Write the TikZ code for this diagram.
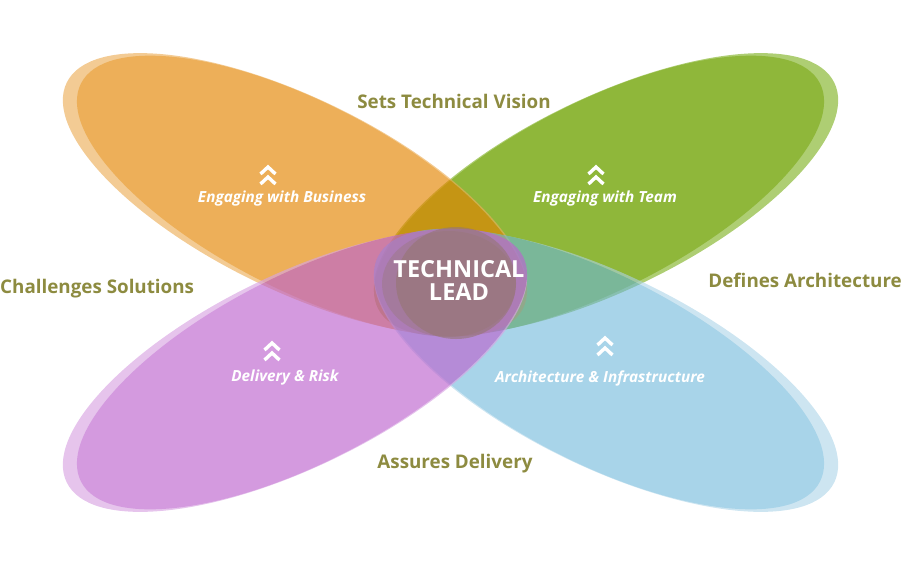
\documentclass[tikz,border=0pt]{standalone}
\usepackage{fontspec}
\setmainfont{Open Sans}
\definecolor{olivetext}{RGB}{141,139,64}
% petal colours (full strength, shown through the group opacity)
\definecolor{orangeL}{RGB}{236,175,90}
\definecolor{orangeD}{RGB}{227,132,0}
\definecolor{greenL}{RGB}{160,197,90}
\definecolor{greenD}{RGB}{123,170,23}
\definecolor{blueL}{RGB}{172,212,232}
\definecolor{blueD}{RGB}{110,183,218}
\definecolor{purpleL}{RGB}{216,164,226}
\definecolor{purpleD}{RGB}{189,100,206}
\definecolor{hubfill}{RGB}{150,118,115}
\tikzset{
  outerlabel/.style={text=olivetext, font=\bfseries\fontsize{18.8}{22}\selectfont, inner sep=0pt},
  petallabel/.style={text=white, font=\bfseries\itshape\fontsize{15.3}{18}\selectfont, inner sep=0pt},
  hublabel/.style={text=white, font=\bfseries\fontsize{23.5}{27}\selectfont, align=center, inner sep=0pt},
  chevron/.style={draw=white, line width=3.4pt, miter limit=10},
}
% one petal: a light outer ellipse with a darker ellipse over it
\newcommand\petalshape[2]{%
  \fill[#1] (295,194) [rotate around={-26:(295,194)}] ellipse [x radius=254, y radius=96];
  \fill[#2] (302,196) [rotate around={-27:(302,196)}] ellipse [x radius=248, y radius=94];
}
% double chevron pointing up, apex of the upper stroke at (#1,#2)
\newcommand\upchevrons[3]{%
  \coordinate (#3-a) at (#1,#2);
  \draw[chevron] ($(#3-a)+(-7.5,7)$) -- (#3-a) -- ($(#3-a)+(7.5,7)$);
  \draw[chevron] ($(#3-a)+(-7.5,17)$) -- ($(#3-a)+(0,10)$) -- ($(#3-a)+(7.5,17)$);
}
\usetikzlibrary{calc}
\begin{document}
\begin{tikzpicture}[x=1pt,y=-1pt]
\useasboundingbox (0,0) rectangle (903,566);

% green petal (upper right)
\begin{scope}[transparency group, opacity=0.85, shift={(901,0)}, xscale=-1]
  \petalshape{greenL}{greenD}
\end{scope}
% orange petal (upper left)
\begin{scope}[transparency group, opacity=0.65]
  \petalshape{orangeL}{orangeD}
\end{scope}
% blue petal (lower right)
\begin{scope}[transparency group, opacity=0.6, shift={(901,565)}, xscale=-1, yscale=-1]
  \petalshape{blueL}{blueD}
\end{scope}
% purple petal (lower left)
\begin{scope}[transparency group, opacity=0.65, shift={(0,565)}, yscale=-1]
  \petalshape{purpleL}{purpleD}
\end{scope}

% central hub
\fill[hubfill, opacity=0.35] (449,284) ellipse [x radius=67, y radius=53];
\fill[hubfill, opacity=0.6] (456,283) ellipse [x radius=60, y radius=56];
\node[hublabel] (hub) at (459,280) {TECHNICAL\\[-4pt]LEAD};

% petal captions with their chevrons
\upchevrons{268}{167}{chevA}
\node[petallabel] (lblA) at (282,199) {Engaging with Business};
\upchevrons{596}{167}{chevB}
\node[petallabel] (lblB) at (605,199) {Engaging with Team};
\upchevrons{272}{343}{chevC}
\node[petallabel] (lblC) at (285,378) {Delivery \& Risk};
\upchevrons{605}{338}{chevD}
\node[petallabel] (lblD) at (600,378) {Architecture \& Infrastructure};

% role statements around the flower
\node[outerlabel] (top) at (454,101) {Sets Technical Vision};
\node[outerlabel, anchor=west] (left) at (0,289) {Challenges Solutions};
\node[outerlabel, anchor=east] (right) at (902,280) {Defines Architecture};
\node[outerlabel] (bottom) at (455,464) {Assures Delivery};
\end{tikzpicture}
\end{document}
